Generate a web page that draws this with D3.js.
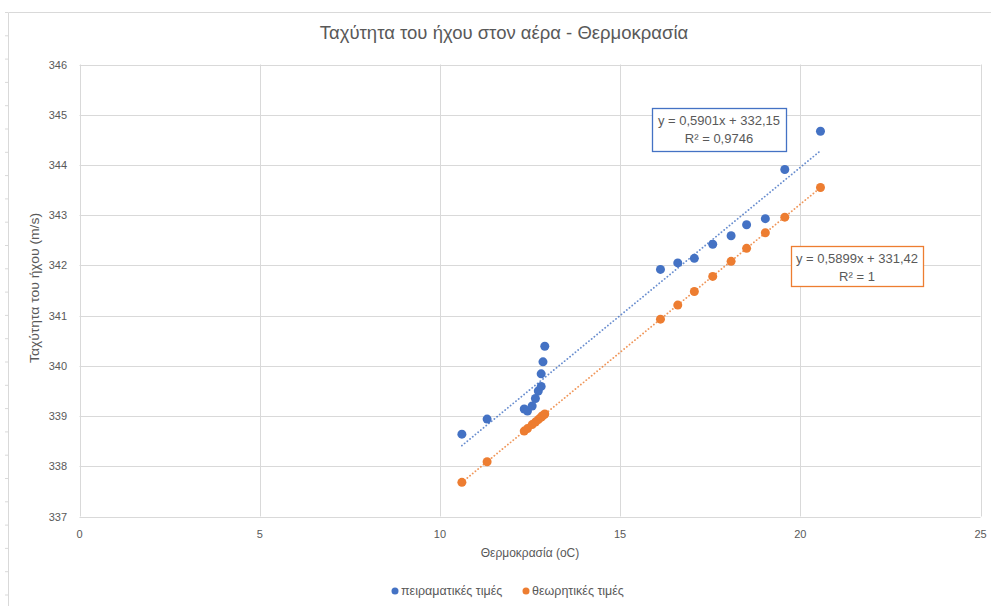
<!DOCTYPE html>
<html>
<head>
<meta charset="utf-8">
<script src="https://cdn.jsdelivr.net/npm/d3@7"></script>
<style>
  body { margin: 0; background: #fff; }
  text { font-family: "Liberation Sans", sans-serif; fill: #595959; }
</style>
</head>
<body>
<svg id="chart" width="991" height="606"></svg>
<script>
// temperature (oC), shared by both series
const temps = [10.61, 11.31, 12.34, 12.43, 12.56, 12.65, 12.73, 12.81, 12.81, 12.86, 12.91,
  16.12, 16.60, 17.06, 17.57, 18.08, 18.51, 19.03, 19.57, 20.56];
// measured speed of sound (m/s)
const measured = [338.64, 338.94, 339.14, 339.10, 339.20, 339.35, 339.50, 339.59, 339.84, 340.08, 340.39,
  341.92, 342.05, 342.14, 342.42, 342.59, 342.81, 342.93, 343.91, 344.67];
// theoretical speed of sound (m/s)
const theoretical = [337.68, 338.09, 338.70, 338.75, 338.83, 338.88, 338.93, 338.98, 338.98, 339.01, 339.04,
  340.93, 341.21, 341.48, 341.78, 342.08, 342.34, 342.65, 342.96, 343.55];

const xTicks = [0, 5, 10, 15, 20, 25];
const yTicks = [337, 338, 339, 340, 341, 342, 343, 344, 345, 346];

const seriesNames = ['πειραματικές τιμές', 'θεωρητικές τιμές'];
const seriesColors = ['#4472C4', '#ED7D31'];
// linear trendlines as shown on the chart
const fits = [
  {slope: 0.5901, icpt: 332.15, eq: 'y = 0,5901x + 332,15', r2: 'R² = 0,9746'},
  {slope: 0.5899, icpt: 331.42, eq: 'y = 0,5899x + 331,42', r2: 'R² = 1'},
];

const svg = d3.select('#chart');

// outer chart frame (partially visible)
svg.append('path')
    .attr('d', 'M8.5,606 V12.5 H991')
    .attr('fill', 'none')
    .attr('stroke', '#d9d9d9');
svg.append('g').selectAll('line')
    .data(d3.range(12, 606, 23.3))
    .join('line')
    .attr('x1', 5).attr('x2', 8)
    .attr('y1', (d) => d + 0.5).attr('y2', (d) => d + 0.5)
    .attr('stroke', '#d9d9d9');

const x = d3.scaleLinear().domain([0, 25]).range([79.5, 980.5]);
const y = d3.scaleLinear().domain([337, 346]).range([516.5, 64.5]);

// gridlines
svg.append('g').selectAll('line')
    .data(yTicks)
    .join('line')
    .attr('x1', x(0)).attr('x2', x(25))
    .attr('y1', (d) => Math.round(y(d)) + 0.5).attr('y2', (d) => Math.round(y(d)) + 0.5)
    .attr('stroke', '#d9d9d9');
svg.append('g').selectAll('line')
    .data(xTicks)
    .join('line')
    .attr('y1', y(337)).attr('y2', y(346))
    .attr('x1', (d) => Math.round(x(d)) + 0.5).attr('x2', (d) => Math.round(x(d)) + 0.5)
    .attr('stroke', '#d9d9d9');

// tick labels
svg.append('g').selectAll('text')
    .data(yTicks)
    .join('text')
    .attr('x', 67)
    .attr('y', (d) => y(d) + 4)
    .attr('text-anchor', 'end')
    .attr('font-size', 11)
    .text((d) => d);
svg.append('g').selectAll('text')
    .data(xTicks)
    .join('text')
    .attr('x', (d) => x(d))
    .attr('y', 538)
    .attr('text-anchor', 'middle')
    .attr('font-size', 11)
    .text((d) => d);

// axis titles
svg.append('text')
    .attr('x', x(12.5))
    .attr('y', 557)
    .attr('text-anchor', 'middle')
    .attr('font-size', 12)
    .text('Θερμοκρασία (oC)');
svg.append('text')
    .attr('transform', `translate(39,${y(341.55)}) rotate(-90)`)
    .attr('text-anchor', 'middle')
    .attr('font-size', 13)
    .attr('textLength', 150)
    .attr('lengthAdjust', 'spacingAndGlyphs')
    .text('Ταχύτητα του ήχου (m/s)');

// title
svg.append('text')
    .attr('x', 504)
    .attr('y', 39)
    .attr('text-anchor', 'middle')
    .attr('font-size', 18.5)
    .text('Ταχύτητα του ήχου στον αέρα - Θερμοκρασία');

const series = [measured, theoretical];

// trendlines
const xMin = d3.min(temps);
const xMax = d3.max(temps);
svg.append('g').selectAll('line')
    .data(fits)
    .join('line')
    .attr('x1', x(xMin)).attr('x2', x(xMax))
    .attr('y1', (d) => y(d.slope * xMin + d.icpt))
    .attr('y2', (d) => y(d.slope * xMax + d.icpt))
    .attr('stroke', (d, i) => seriesColors[i])
    .attr('stroke-width', 1.8)
    .attr('stroke-dasharray', '0.1 3.4')
    .attr('stroke-linecap', 'round')
    .attr('opacity', 0.8);

// markers
series.forEach((vals, i) => {
  svg.append('g').selectAll('circle')
      .data(vals)
      .join('circle')
      .attr('cx', (d, j) => x(temps[j]))
      .attr('cy', (d) => y(d))
      .attr('r', 4.5)
      .attr('fill', seriesColors[i]);
});

// trendline labels
const boxes = [
  {x: 652, y: 108, w: 134, h: 43},
  {x: 791, y: 246, w: 132, h: 40},
];
fits.forEach((f, i) => {
  const b = boxes[i];
  const g = svg.append('g');
  g.append('rect')
      .attr('x', b.x + 0.5).attr('y', b.y + 0.5)
      .attr('width', b.w).attr('height', b.h)
      .attr('fill', '#fff')
      .attr('stroke', seriesColors[i])
      .attr('stroke-width', 1.3);
  g.append('text')
      .attr('x', b.x + b.w / 2).attr('y', b.y + 17)
      .attr('text-anchor', 'middle')
      .attr('font-size', 13)
      .text(f.eq);
  g.append('text')
      .attr('x', b.x + b.w / 2).attr('y', b.y + 35)
      .attr('text-anchor', 'middle')
      .attr('font-size', 13)
      .text(f.r2);
});

// legend
const legendX = [395, 526];
const legend = svg.append('g').selectAll('g')
    .data(seriesNames)
    .join('g')
    .attr('transform', (d, i) => `translate(${legendX[i]},591)`);
legend.append('circle')
    .attr('r', 3.5)
    .attr('fill', (d, i) => seriesColors[i]);
legend.append('text')
    .attr('x', 6)
    .attr('y', 4)
    .attr('font-size', 12.5)
    .text((d) => d);
</script>
</body>
</html>
